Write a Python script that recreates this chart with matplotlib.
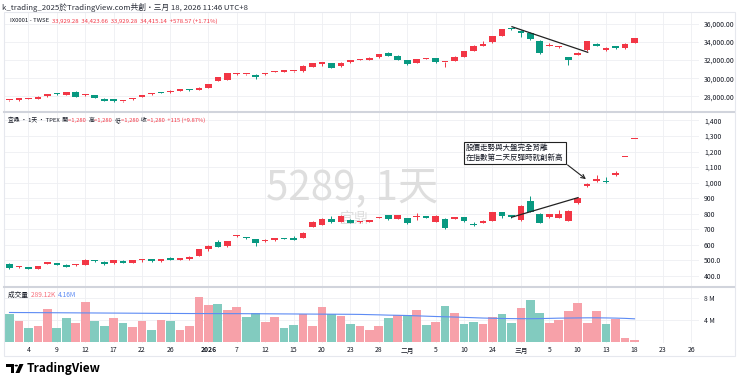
import matplotlib
matplotlib.use('Agg')
import matplotlib.pyplot as plt
from matplotlib.patches import Circle, Polygon, FancyBboxPatch
from matplotlib.lines import Line2D

plt.rcParams['font.family'] = ['Noto Sans CJK TC', 'DejaVu Sans']

# ---------------- data ----------------
dates = (
    ["2025-12-%02d" % d for d in [2, 3, 4, 5, 8, 9, 10, 11, 12, 15, 16, 17, 18, 19, 22, 23, 24, 26, 29, 30, 31]]
    + ["2026-01-%02d" % d for d in [2, 5, 6, 7, 8, 9, 12, 13, 14, 15, 16, 19, 20, 21, 22, 23, 26, 27, 28, 29, 30]]
    + ["2026-02-%02d" % d for d in [2, 3, 4, 5, 6, 9, 10, 11, 23, 24, 25, 26]]
    + ["2026-03-%02d" % d for d in [2, 3, 4, 5, 6, 9, 10, 11, 12, 13, 16, 17, 18]]
)
future_dates = ["2026-03-19", "2026-03-20", "2026-03-23", "2026-03-24", "2026-03-25", "2026-03-26"]

tick_dates = ["2025-12-04", "2025-12-09", "2025-12-12", "2025-12-17", "2025-12-22", "2025-12-26",
              "2026-01-02", "2026-01-07", "2026-01-12", "2026-01-15", "2026-01-20", "2026-01-23",
              "2026-01-28", "2026-02-02", "2026-02-05", "2026-02-10", "2026-02-24", "2026-03-02",
              "2026-03-05", "2026-03-10", "2026-03-13", "2026-03-18", "2026-03-23", "2026-03-26"]
tick_labels = ["4", "9", "12", "17", "22", "26", "2026", "7", "12", "15", "20", "23",
               "28", "二月", "5", "10", "24", "三月", "5", "10", "13", "18", "23", "26"]

# TWSE index (IX0001)
twse_open = [27540, 27550, 27700, 27734, 27993, 28360, 28177, 28472, 28103, 28103, 27734, 27697, 27460, 27661,
             27919, 28214, 28435, 28435, 28620, 28731, 28694, 28952, 29727, 29838, 30450, 30410, 30391, 30428,
             30670, 30686, 30745, 30760, 31277, 31572, 31683, 31314, 31757, 31990, 32052, 32310, 32826, 32495,
             32015, 31683, 32140, 32199, 31740, 31904, 32384, 33048, 33564, 33970, 34708, 35460, 35225, 35041,
             34155, 33565, 33417, 32310, 32605, 33085, 33786, 33159, 33528, 33306, 33929.28]
twse_close = [27560, 27771, 27771, 27956, 28251, 28200, 28435, 27956, 28251, 27808, 27513, 27439, 27490, 27734,
              28140, 28362, 28362, 28620, 28804, 28657, 28952, 29321, 30096, 30539, 30480, 30440, 30170, 30576,
              30700, 30908, 30775, 31388, 31646, 31757, 31166, 31720, 31978, 32040, 32273, 32679, 32495, 32015,
              31572, 32126, 32180, 31757, 31770, 32384, 32974, 33601, 33786, 34635, 35410, 35430, 34967, 34303,
              32753, 33712, 33565, 32015, 32790, 34081, 33565, 33380, 33306, 33786, 34415.14]
twse_high = [27600, 27800, 27800, 27990, 28290, 28400, 28460, 28540, 28280, 28130, 27770, 27720, 27530, 27810,
             28170, 28390, 28470, 28650, 28830, 28780, 28980, 29360, 30130, 30570, 30540, 30490, 30420, 30610,
             30780, 30940, 30810, 31420, 31680, 31830, 31710, 31760, 32010, 32080, 32310, 32720, 32950, 32520,
             32040, 32160, 32230, 32230, 31800, 32420, 33010, 33640, 34081, 34670, 35440, 35560, 35300, 35100,
             34200, 33900, 33600, 32350, 32850, 34120, 33950, 33420, 33600, 33950, 34423.66]
twse_low = [27500, 27520, 27680, 27720, 27960, 28170, 28150, 27880, 28060, 27760, 27480, 27400, 27420, 27580,
            27890, 28190, 28330, 28410, 28600, 28620, 28670, 28930, 29700, 29810, 30390, 30360, 29911, 30400,
            30640, 30660, 30720, 30740, 31250, 31388, 31130, 31290, 31730, 31960, 32020, 32290, 32470, 31990,
            31461, 31660, 32110, 31730, 31240, 31880, 32360, 33020, 33540, 33940, 34690, 35380, 34598, 34280,
            32720, 33540, 33390, 31498, 32580, 33060, 33540, 33050, 33280, 33280, 33929.28]

# 5289 宜鼎 (TPEX)
stk_open = [480, 455, 456, 448, 480, 482, 473, 470, 473, 496, 493, 482, 499, 486, 500, 510, 495, 518, 505, 508,
            531, 576, 619, 591, 656, 646, 636, 623, 632, 641, 647, 647, 717, 730, 767, 750, 763, 747, 750, 774,
            790, 769, 771, 781, 780, 750, 769, 767, 778, 729, 743, 756, 810, 790, 758, 885, 799, 778, 775, 756,
            872, 977, 1011, 1013, 1052, 1165, 1280]
stk_close = [450, 457, 446, 465, 488, 471, 461, 472, 503, 494, 478, 503, 486, 501, 502, 494, 508, 505, 516, 523,
             572, 593, 589, 625, 659, 644, 615, 634, 642, 639, 634, 679, 748, 767, 747, 786, 743, 752, 752, 776,
             765, 790, 739, 783, 776, 786, 707, 778, 752, 727, 754, 810, 788, 778, 852, 814, 743, 797, 799, 820,
             900, 992, 1026, 1005, 1060, 1165, 1280]
stk_high = [485, 462, 458, 467, 492, 485, 475, 479, 510, 500, 495, 506, 502, 504, 510, 512, 511, 522, 519, 527,
            575, 598, 632, 628, 666, 650, 640, 638, 646, 645, 658, 682, 752, 772, 787, 790, 766, 755, 756, 780,
            793, 794, 774, 803, 784, 790, 772, 781, 781, 748, 758, 814, 814, 793, 856, 915, 803, 801, 825, 824,
            905, 996, 1052, 1039, 1078, 1165, 1280]
stk_low = [445, 449, 443, 446, 476, 468, 458, 465, 471, 490, 471, 480, 483, 484, 493, 492, 493, 503, 503, 505,
           528, 563, 585, 588, 649, 640, 593, 619, 628, 636, 631, 644, 713, 725, 744, 746, 738, 743, 746, 770,
           762, 766, 735, 760, 772, 745, 704, 764, 749, 722, 740, 752, 771, 775, 753, 810, 740, 774, 772, 752,
           866, 970, 1006, 1000, 1045, 1165, 1280]

# volume (millions of shares) and its moving average
volume = [4.96, 3.76, 2.57, 2.93, 5.97, 2.51, 4.24, 3.46, 7.16, 3.82, 2.81, 4.24, 3.40, 2.63, 3.70, 2.15, 3.94,
          3.76, 2.09, 2.87, 8.18, 6.69, 6.93, 5.85, 6.33, 4.48, 5.13, 3.64, 4.48, 2.45, 2.99, 5.07, 2.87, 6.27,
          5.07, 4.60, 3.16, 2.87, 2.09, 2.93, 4.30, 4.78, 4.78, 5.73, 2.99, 3.58, 6.45, 5.13, 3.28, 3.58, 3.22,
          4.54, 5.07, 3.40, 6.15, 7.64, 5.13, 3.46, 3.94, 5.67, 6.99, 3.46, 5.67, 3.22, 4.06, 0.72, 0.289]
vol_ma = [5.31, 5.30, 5.29, 5.28, 5.27, 5.26, 5.25, 5.24, 5.23, 5.22, 5.21, 5.20, 5.19, 5.18, 5.17, 5.16, 5.15,
          5.14, 5.13, 5.12, 5.12, 5.11, 5.11, 5.10, 5.10, 5.09, 5.08, 5.07, 5.06, 5.05, 5.04, 5.03, 5.02, 5.01,
          5.00, 4.99, 4.98, 4.96, 4.92, 4.88, 4.83, 4.80, 4.76, 4.70, 4.64, 4.58, 4.53, 4.48, 4.42, 4.36, 4.30,
          4.26, 4.22, 4.20, 4.18, 4.18, 4.20, 4.24, 4.28, 4.30, 4.32, 4.34, 4.34, 4.32, 4.29, 4.24, 4.16]

top_ticks = [28000, 30000, 32000, 34000, 36000]
mid_ticks = [400, 500, 600, 700, 800, 900, 1000, 1100, 1200, 1300, 1400]
mid_tick_labels = ["400.0", "500.0", "600", "700", "800", "900", "1,000", "1,100", "1,200", "1,300", "1,400"]
vol_ticks = [4, 8]
vol_tick_labels = ["4 M", "8 M"]

# drawings on the chart (bar index, price)
twse_trend = ([53.06, 61.06], [35701, 32867])
stk_trend = ([53.03, 60.03], [778, 904])
note_text = "股價走勢與大盤完全背離\n在指數第二天反彈時就創新高"
note_pos = (48.2, 1191)
arrow_from = (58.7, 1125)
arrow_to = (61.1, 1012)

# ---------------- style ----------------
W, H = 740, 385
UP, DOWN = '#f23645', '#089981'
VOL_UP, VOL_DOWN = '#f7a1a9', '#82cbbf'
TXT = '#131722'
GRID = '#eeeff2'
SMALL = 4.9

fig = plt.figure(figsize=(W / 100, H / 100), dpi=100)
fig.patch.set_facecolor('white')


def rect(x0, y0, x1, y1):
    return [x0 / W, 1 - y1 / H, (x1 - x0) / W, (y1 - y0) / H]


all_dates = dates + future_dates
xs = list(range(len(dates)))
tick_pos = [all_dates.index(d) for d in tick_dates]
XLIM = (-0.475, 72.81)

ax_top = fig.add_axes(rect(5, 13, 699, 111))
ax_mid = fig.add_axes(rect(5, 113, 699, 286))
ax_vol = fig.add_axes(rect(5, 288, 699, 343))

for ax in (ax_top, ax_mid, ax_vol):
    ax.set_xlim(*XLIM)
    for s in ax.spines.values():
        s.set_visible(False)
    ax.set_facecolor('none')
    ax.set_xticks(tick_pos)
    ax.tick_params(axis='both', length=0, labelsize=SMALL, colors=TXT)
    ax.yaxis.tick_right()
    ax.tick_params(axis='y', pad=3.5)
    ax.grid(True, color=GRID, lw=0.6, zorder=0)
    ax.set_axisbelow(True)

ax_top.set_ylim(26369, 37218)
ax_mid.set_ylim(336.1, 1447.9)
ax_vol.set_ylim(-0.236, 9.76)

ax_top.set_yticks(top_ticks)
ax_top.set_yticklabels([f"{t:,.2f}" for t in top_ticks])
ax_mid.set_yticks(mid_ticks)
ax_mid.set_yticklabels(mid_tick_labels)
ax_vol.set_yticks(vol_ticks)
ax_vol.set_yticklabels(vol_tick_labels)
ax_top.tick_params(axis='x', labelbottom=False)
ax_mid.tick_params(axis='x', labelbottom=False)
ax_vol.set_xticklabels(tick_labels)
ax_vol.tick_params(axis='x', pad=2.5)
for lab in ax_vol.get_xticklabels():
    if lab.get_text() == "2026":
        lab.set_fontweight('bold')


def candles(ax, o, h, l, c, px_h):
    minh = (ax.get_ylim()[1] - ax.get_ylim()[0]) / px_h
    for i in xs:
        col = UP if c[i] >= o[i] else DOWN
        ax.vlines(i, l[i], h[i], color=col, lw=0.7, zorder=3)
        lo = min(o[i], c[i])
        ht = max(abs(c[i] - o[i]), minh * 1.2)
        ax.bar(i, ht, bottom=lo, width=0.7, color=col, lw=0, zorder=4)


candles(ax_top, twse_open, twse_high, twse_low, twse_close, 98)
candles(ax_mid, stk_open, stk_high, stk_low, stk_close, 173)

vcols = [VOL_UP if stk_close[i] >= stk_open[i] else VOL_DOWN for i in xs]
ax_vol.bar(xs, volume, width=0.92, color=vcols, lw=0, zorder=2)
ax_vol.plot(xs, vol_ma, color='#5d8bf4', lw=0.8, zorder=3)

# watermark
ax_mid.text(0.5, 0.566, "5289, 1天", transform=ax_mid.transAxes, ha='center', va='center',
            fontsize=29, color='#dedede', zorder=1)
ax_mid.text(0.503, 0.387, "宜鼎", transform=ax_mid.transAxes, ha='center', va='center',
            fontsize=10.5, color='#dedede', zorder=1)

# drawings
ax_top.plot(*twse_trend, color='#222222', lw=0.9, zorder=6)
ax_mid.plot(*stk_trend, color='#222222', lw=0.9, zorder=6)
ax_mid.text(*note_pos, note_text, ha='left', va='center', fontsize=5.45, color=TXT, linespacing=1.2,
            zorder=7, bbox=dict(boxstyle='square,pad=0.3', fc='white', ec='#222222', lw=0.8))
ax_mid.annotate('', xy=arrow_to, xytext=arrow_from, zorder=7,
                arrowprops=dict(arrowstyle='->', color='#222222', lw=0.8, mutation_scale=7))

# separators and frame
for y in (112, 287):
    fig.add_artist(Line2D([4 / W, 734 / W], [1 - y / H, 1 - y / H], color='#d1d4dc', lw=1.5))
fig.add_artist(FancyBboxPatch((4 / W, 1 - 356 / H), 731 / W, 344 / H, boxstyle='square,pad=0',
                              transform=fig.transFigure, fill=False, ec='#e6e8ee', lw=0.8))

renderer = fig.canvas.get_renderer()


def parts_text(x_px, y_px, parts, size, weight='normal'):
    x = x_px
    for s, col in parts:
        t = fig.text(x / W, 1 - y_px / H, s, color=col, fontsize=size, va='center', ha='left',
                     fontweight=weight)
        x += t.get_window_extent(renderer=renderer).width


parts_text(2, 7, [("k_trading_2025於TradingView.com共創・三月 18, 2026 11:46 UTC+8", '#2a2e39')], 5.6)
parts_text(10, 21, [("IX0001 - TWSE  ", TXT),
                    ("33,929.28  34,423.66  33,929.28  34,415.14  +578.57 (+1.71%)", UP)], 4.3)
parts_text(8, 120, [("宜鼎 · 1天 · TPEX  開", TXT), ("=1,280  ", UP), ("高", TXT), ("=1,280  ", UP),
                    ("低", TXT), ("=1,280  ", UP), ("收", TXT), ("=1,280  +115 (+9.87%)", UP)], 4.2)
parts_text(8, 295, [("成交量  ", TXT), ("289.12K  ", '#f7707c'), ("4.16M", '#5d8bf4')], 4.8)


# TradingView logo
def fx(x):
    return x / W


def fy(y):
    return 1 - y / H


fig.add_artist(Polygon([(fx(6), fy(364)), (fx(14), fy(364)), (fx(14), fy(373)), (fx(10.5), fy(373)),
                        (fx(10.5), fy(367)), (fx(6), fy(367))], closed=True, transform=fig.transFigure,
                       fc='black', ec='none'))
fig.add_artist(Circle((fx(16.3), fy(365.6)), 1.7 / W, transform=fig.transFigure, fc='black', ec='none'))
fig.add_artist(Polygon([(fx(19.5), fy(364)), (fx(23.5), fy(364)), (fx(19.5), fy(373)), (fx(15.5), fy(373))],
                       closed=True, transform=fig.transFigure, fc='black', ec='none'))
fig.text(fx(26.5), fy(368.5), "TradingView", fontsize=8.6, fontweight='bold', color='black',
         ha='left', va='center')

fig.savefig('out.png', dpi=100, facecolor='white')
